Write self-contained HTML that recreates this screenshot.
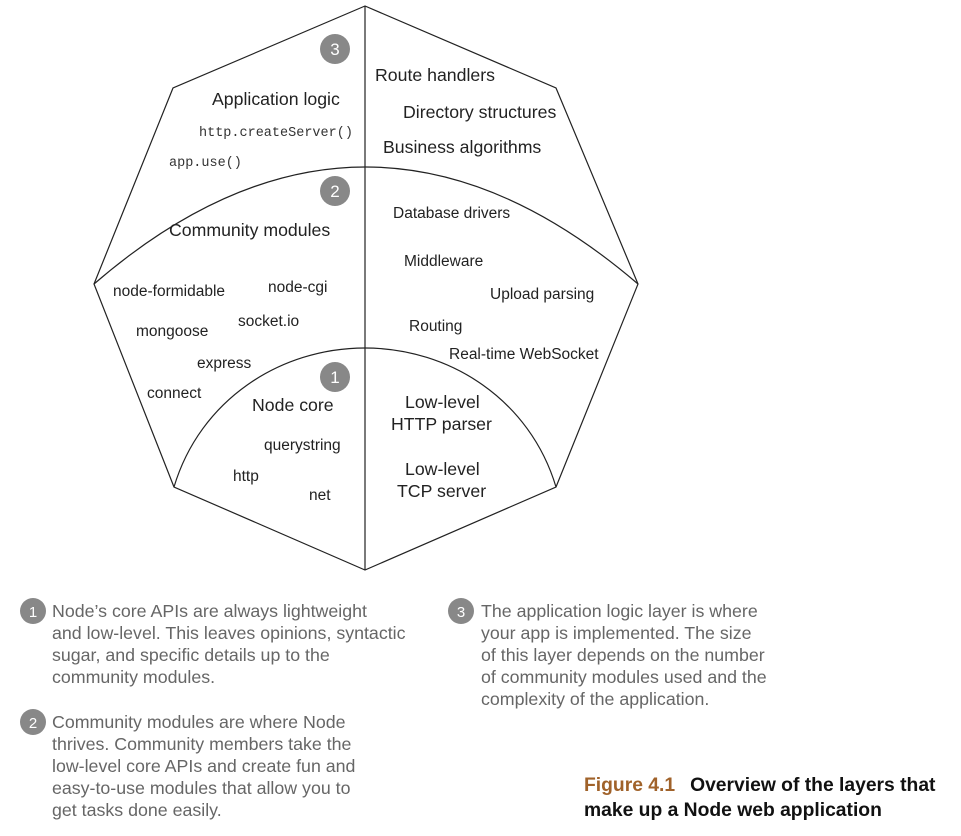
<!DOCTYPE html>
<html><head><meta charset="utf-8"><style>
html,body{margin:0;padding:0;background:#fff;width:961px;height:836px;overflow:hidden}
svg{position:absolute;left:0;top:0}
.t{font-family:"Liberation Sans",sans-serif;fill:#222}
.m{font-family:"Liberation Mono",monospace;fill:#333;font-size:13.5px}
.c{font-family:"Liberation Sans",sans-serif;fill:#666;font-size:17.8px}
</style></head><body>
<svg width="961" height="836" viewBox="0 0 961 836">
<g fill="none" stroke="#222" stroke-width="1.2">
<polygon points="365,6 173,88 94,284 174,487 365,570 556,487 638,284 556,88"/>
<line x1="365" y1="6" x2="365" y2="570"/>
<path d="M94,284 Q365,50 638,284"/>
<path d="M174,487 C200,400 280,348 365,348 C450,348 530,400 556,487"/>
</g>
<g fill="#888"><circle cx="335" cy="49" r="15"/><circle cx="335" cy="191" r="15"/><circle cx="335" cy="377" r="15"/></g>
<g font-family="Liberation Sans,sans-serif" font-size="17" text-anchor="middle" fill="#fff"><text x="335" y="55">3</text><text x="335" y="197">2</text><text x="335" y="383">1</text></g>
<g class="t" font-size="17.7">
<text x="212" y="105">Application logic</text>
<text x="375" y="81">Route handlers</text>
<text x="403" y="118">Directory structures</text>
<text x="383" y="153">Business algorithms</text>
<text x="169" y="236">Community modules</text>
<text x="252" y="411">Node core</text>
<text x="405" y="408">Low-level</text>
<text x="391" y="430">HTTP parser</text>
<text x="405" y="475">Low-level</text>
<text x="397" y="497">TCP server</text>
</g>
<text class="m" x="199" y="136">http.createServer()</text>
<text class="m" x="169" y="166">app.use()</text>
<g class="t" font-size="15.5">
<text x="393" y="218">Database drivers</text>
<text x="404" y="266">Middleware</text>
<text x="490" y="299">Upload parsing</text>
<text x="409" y="331">Routing</text>
<text x="449" y="359">Real-time WebSocket</text>
<text x="113" y="296">node-formidable</text>
<text x="268" y="292">node-cgi</text>
<text x="238" y="326">socket.io</text>
<text x="136" y="336">mongoose</text>
<text x="197" y="368">express</text>
<text x="147" y="398">connect</text>
<text x="264" y="450">querystring</text>
<text x="233" y="481">http</text>
<text x="309" y="500">net</text>
</g>
<g fill="#888"><circle cx="33" cy="611" r="13"/><circle cx="33" cy="722" r="13"/><circle cx="461" cy="611" r="13"/></g>
<g font-family="Liberation Sans,sans-serif" font-size="15" fill="#fff" text-anchor="middle"><text x="33" y="617">1</text><text x="33" y="728">2</text><text x="461" y="617">3</text></g>
<g class="c">
<text x="52" y="617">Node’s core APIs are always lightweight</text>
<text x="52" y="639">and low-level. This leaves opinions, syntactic</text>
<text x="52" y="661">sugar, and specific details up to the</text>
<text x="52" y="683">community modules.</text>
<text x="52" y="728">Community modules are where Node</text>
<text x="52" y="750">thrives. Community members take the</text>
<text x="52" y="772">low-level core APIs and create fun and</text>
<text x="52" y="794">easy-to-use modules that allow you to</text>
<text x="52" y="816">get tasks done easily.</text>
<text x="481" y="617">The application logic layer is where</text>
<text x="481" y="639">your app is implemented. The size</text>
<text x="481" y="661">of this layer depends on the number</text>
<text x="481" y="683">of community modules used and the</text>
<text x="481" y="705">complexity of the application.</text>
</g>
<g font-family="Liberation Sans,sans-serif" font-size="19.3" font-weight="bold">
<text x="584" y="791"><tspan fill="#a0622a">Figure 4.1</tspan><tspan fill="#111" dx="15">Overview of the layers that</tspan></text>
<text x="584" y="816" fill="#111">make up a Node web application</text>
</g>
</svg>
</body></html>
